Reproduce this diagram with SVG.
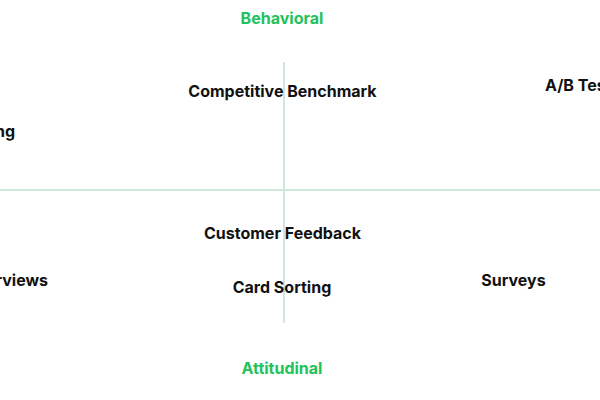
<svg xmlns="http://www.w3.org/2000/svg" width="600" height="400" viewBox="0 0 600 400">
<style>
.axis{stroke:#cfe8da;stroke-width:2;fill:none}
.lbl{font-family:Inter,"Liberation Sans",sans-serif;font-weight:700;font-size:16px;fill:#111}
.ax{font-family:Inter,"Liberation Sans",sans-serif;font-weight:700;font-size:16px;fill:#22c25a}
</style>
<rect width="600" height="400" fill="#fff"/>
<g id="connectors">
<line class="axis" x1="0" y1="190" x2="600" y2="190"/>
<line class="axis" x1="284" y1="62" x2="284" y2="323"/>
</g>
<g id="behavioral"><text class="ax" x="282" y="23.5" text-anchor="middle">Behavioral</text></g>
<g id="attitudinal"><text class="ax" x="282" y="373.5" text-anchor="middle">Attitudinal</text></g>
<g id="competitive-benchmark"><text class="lbl" x="282.5" y="96.5" text-anchor="middle">Competitive Benchmark</text></g>
<g id="ab-testing"><text class="lbl" x="545" y="90.5">A/B Testing</text></g>
<g id="usability-testing"><text class="lbl" x="15" y="136.5" text-anchor="end">Usability Testing</text></g>
<g id="customer-feedback"><text class="lbl" x="282.5" y="238.5" text-anchor="middle">Customer Feedback</text></g>
<g id="card-sorting"><text class="lbl" x="282" y="292.5" text-anchor="middle">Card Sorting</text></g>
<g id="user-interviews"><text class="lbl" x="48" y="285.5" text-anchor="end">User Interviews</text></g>
<g id="surveys"><text class="lbl" x="513.5" y="285.5" text-anchor="middle">Surveys</text></g>
</svg>
